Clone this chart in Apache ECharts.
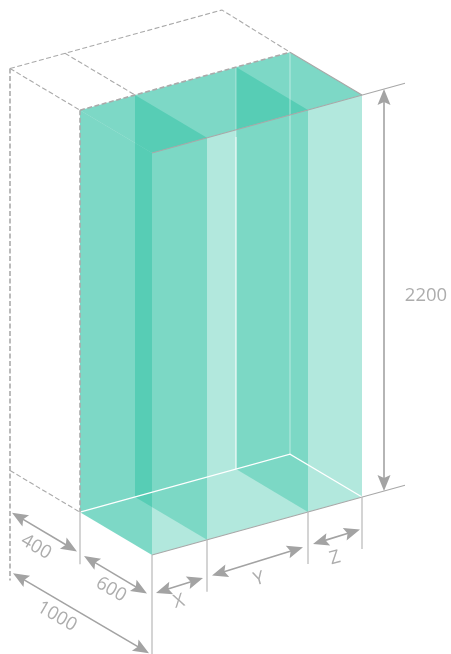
<!DOCTYPE html>
<html><head><meta charset="utf-8">
<style>html,body{margin:0;padding:0;background:#fff}#c{width:451px;height:654px}</style>
<script src="https://cdn.jsdelivr.net/npm/echarts@6/dist/echarts.min.js"></script>
</head><body><div id="c"></div>
<script>
// Drawn extents along the three directions of the diagram
const widthStops = [0, 55, 156, 210];   // front edge: X | Y | Z
const depthStops = [0, 72, 142];        // front, 600 mark, back (1000)
const heightStops = [0, 402];           // 2200
const dimTexts = ['400', '600', '1000', 'X', 'Y', 'Z', '2200'];

const [w0, w1, w2, w3] = widthStops, [d0, d1, d2] = depthStops, [h0, h1] = heightStops;
const ORIGIN = [152, 555], WS = -0.276, DS = -0.595;
function P(w, d, h) { return [ORIGIN[0] + w - d, ORIGIN[1] + w * WS + d * DS - h]; }

const TEAL = c => 'rgba(0,179,143,' + c + ')';
const faces = [
  { a: 0.30, pts: [P(w0,d0,h1), P(w3,d0,h1), P(w3,d0,h0), P(w0,d0,h0)] },   // front
  { a: 0.30, pts: [P(w1,d1,h1), P(w1,d0,h1), P(w1,d0,h0), P(w1,d1,h0)] },   // panel 1
  { a: 0.30, pts: [P(w2,d1,h1), P(w2,d0,h1), P(w2,d0,h0), P(w2,d1,h0)] },   // panel 2
  { a: 0.51, pts: [P(w0,d1,h1), P(w0,d0,h1), P(w0,d0,h0), P(w0,d1,h0)] },   // left wall
  { a: 0.51, pts: [P(w0,d1,h1), P(w3,d1,h1), P(w3,d0,h1), P(w0,d0,h1)] }    // top
];
const DASH = { c: '#aaaaaa', w: 1.1, dash: [5, 2.5] }, DASH2 = { c: '#aaaaaa', w: 1.6, dash: [5, 2.5] },
      GREY = { c: '#a8a8a8', w: 1.1 }, TICK = { c: '#bdbdbd', w: 1.3 };
const lines = [
  // white internal edges
  { s: { c: '#ffffff', w: 1.3 }, pts: [P(w0,d1,h0), P(w3,d1,h0), P(w3,d0,h0)] },
  { s: { c: 'rgba(255,255,255,0.9)', w: 1.2 }, pts: [P(w2,d1,h0), P(w2,d1,h1-70)] },
  { s: { c: 'rgba(255,255,255,0.35)', w: 1.2 }, pts: [P(w2,d1,h1-70), P(w2,d1,h1)] },
  { s: { c: 'rgba(255,255,255,0.35)', w: 1.4 }, pts: [P(w3,d1,h0), P(w3,d1,h1)] },
  // dashed outline of the outer cabinet
  { s: DASH2, pts: [P(w0,d2,h1), P(w0,d2,h0-110)] },
  { s: DASH, pts: [P(w0,d2,h1), P(w3+2,d2,h1), P(w3,d1,h1)] },
  { s: DASH, pts: [P(w0,d2,h1), P(w0,d1,h1)] },
  { s: DASH2, pts: [P(w0,d1,h1), P(w0,d1,h0)] },
  { s: DASH, pts: [P(w1,d2,h1), P(w1,d1,h1)] },
  { s: DASH2, pts: [P(w0,d1,h1), P(w3,d1,h1)] },
  { s: DASH, pts: [P(w0,d2,h0), P(w0,d1,h0)] },
  // solid edges
  { s: GREY, pts: [P(w3,d1,h1), P(w3,d0,h1)] },
  { s: GREY, pts: [P(w0,d0,h1), P(w3+43,d0,h1)] },
  { s: GREY, pts: [P(w0,d0,h0), P(w3+43,d0,h0)] },
  // extension ticks
  { s: TICK, pts: [P(w0,d1,h0), P(w0,d1,h0-52)] },
  { s: TICK, pts: [P(w0,d0,h0), P(w0,d0,h0-100)] },
  { s: TICK, pts: [P(w1,d0,h0), P(w1,d0,h0-52)] },
  { s: TICK, pts: [P(w2,d0,h0), P(w2,d0,h0-52)] },
  { s: TICK, pts: [P(w3,d0,h0), P(w3,d0,h0-52)] }
];
const arrows = [
  [P(0,d2-2,-41), P(0,d1+3,-41)],
  [P(0,d1-4,-41.5), P(0,d0+5,-41.5)],
  [P(0,d2-3,-101), P(0,d0+3,-100)],
  [P(w0+4,0,-39), P(w1-4,0,-37)],
  [P(w1+5,0,-37), P(w2-5,0,-34)],
  [P(w2+5,0,-33.5), P(w3-2,0,-32)],
  [P(232,0,h0), P(232,0,h1)]
];
const texts = [
  { t: dimTexts[0], p: P(0,116,-61), r: 30 },
  { t: dimTexts[1], p: P(0,41,-59), r: 30 },
  { t: dimTexts[2], p: P(0,95,-118), r: 30 },
  { t: dimTexts[3], p: P(27,0,-54), r: -15 },
  { t: dimTexts[4], p: P(107,0,-53.5), r: -15 },
  { t: dimTexts[5], p: P(183,0,-53.5), r: -15 },
  { t: dimTexts[6], p: [426, 296], r: 0 }
];

function px(api, p) { return api.coord(p); }
function seriesOf(list, render) {
  return { type: 'custom', coordinateSystem: 'cartesian2d', silent: true, animation: false, clip: false,
           data: list.map((_, i) => [i, i]), renderItem: (params, api) => render(list[params.dataIndex], api) };
}
const option = {
  animation: false,
  backgroundColor: '#ffffff',
  grid: { left: 0, right: 0, top: 0, bottom: 0 },
  xAxis: { type: 'value', min: 0, max: 451, show: false },
  yAxis: { type: 'value', min: 0, max: 654, inverse: true, show: false },
  series: [
    seriesOf(faces, (f, api) => ({ type: 'polygon', shape: { points: f.pts.map(p => px(api, p)) }, style: { fill: TEAL(f.a) } })),
    seriesOf(lines, (l, api) => ({ type: 'polyline', shape: { points: l.pts.map(p => px(api, p)) },
      style: { fill: null, stroke: l.s.c, lineWidth: l.s.w, lineDash: l.s.dash || null } })),
    seriesOf(arrows, (a, api) => {
      const A = px(api, a[0]), B = px(api, a[1]);
      const dx = B[0] - A[0], dy = B[1] - A[1], L = Math.hypot(dx, dy), ux = dx / L, uy = dy / L;
      const head = (T, sx, sy) => ({ type: 'polygon', shape: { points: [T,
          [T[0] + sx * 16 - sy * 6.5, T[1] + sy * 16 + sx * 6.5],
          [T[0] + sx * 13, T[1] + sy * 13],
          [T[0] + sx * 16 + sy * 6.5, T[1] + sy * 16 - sx * 6.5]] }, style: { fill: '#a3a3a3' } });
      return { type: 'group', children: [
        { type: 'line', shape: { x1: A[0] + ux * 10, y1: A[1] + uy * 10, x2: B[0] - ux * 10, y2: B[1] - uy * 10 },
          style: { stroke: '#a3a3a3', lineWidth: 1.6 } },
        head(A, ux, uy), head(B, -ux, -uy)] };
    }),
    seriesOf(texts, (t, api) => {
      const c = px(api, t.p);
      return { type: 'text', x: c[0], y: c[1], rotation: -t.r * Math.PI / 180,
        style: { text: t.t, x: 0, y: 0, fill: '#adadad', font: '18.5px "Open Sans"', textAlign: 'center', textVerticalAlign: 'middle' } };
    })
  ]
};
echarts.init(document.getElementById('c'), null, { renderer: 'canvas' }).setOption(option);
</script></body></html>
